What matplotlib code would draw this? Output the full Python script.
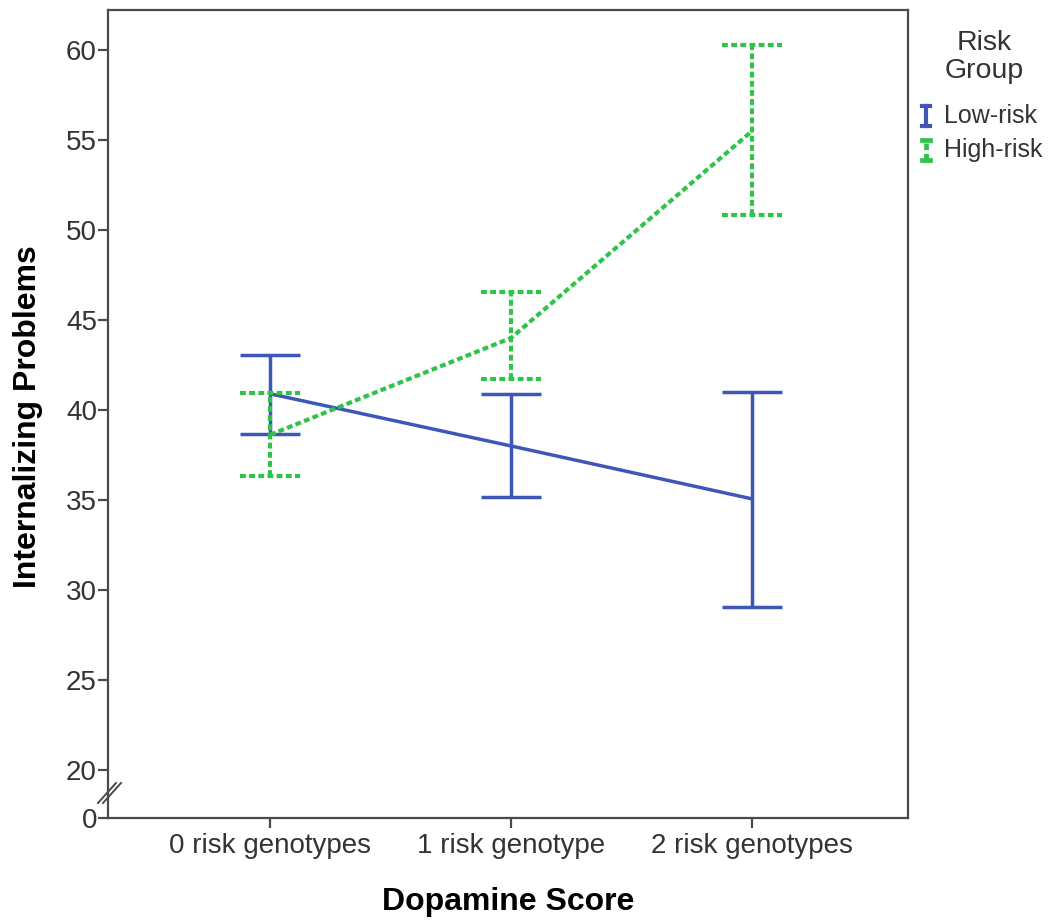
import numpy as np
import matplotlib
matplotlib.use("Agg")
import matplotlib.pyplot as plt
from matplotlib.lines import Line2D

plt.rcParams['font.family'] = ['Liberation Sans', 'DejaVu Sans']

categories = ["0 risk genotypes", "1 risk genotype", "2 risk genotypes"]
low_mean = [40.9, 38.0, 35.06]
low_lo = [38.67, 35.17, 29.06]
low_hi = [43.06, 40.89, 41.0]
high_mean = [38.62, 44.0, 55.5]
high_lo = [36.33, 41.72, 50.83]
high_hi = [40.94, 46.56, 60.28]
yticks = [20, 25, 30, 35, 40, 45, 50, 55, 60]

blue = '#3d57b9'
green = '#2fc449'
dotted = (0, (1.4, 0.8))
capw = 0.125

fig = plt.figure(figsize=(10.55, 9.23), dpi=100)
ax = fig.add_axes([0.1024, 0.1138, 0.7583, 0.8754])

x = np.arange(len(categories))

# low-risk: solid
ax.plot(x, low_mean, color=blue, lw=2.5, solid_capstyle='butt')
ax.vlines(x, low_lo, low_hi, color=blue, lw=2.5)
ax.hlines(low_lo, x - capw, x + capw, color=blue, lw=2.5)
ax.hlines(low_hi, x - capw, x + capw, color=blue, lw=2.5)

# high-risk: dotted
ax.plot(x, high_mean, color=green, lw=3.0, linestyle=dotted)
ax.vlines(x, high_lo, high_hi, color=green, lw=3.0, linestyle=dotted)
ax.hlines(high_lo, x - capw, x + capw, color=green, lw=3.0, linestyle=dotted)
ax.hlines(high_hi, x - capw, x + capw, color=green, lw=3.0, linestyle=dotted)

ybot = 60 - 768 / 18
ytop = 60 + 40 / 18
ax.set_ylim(ybot, ytop)
ax.set_xlim(-0.672, 2.647)
ax.set_yticks([ybot] + yticks)
ax.set_yticklabels(["0"] + [str(t) for t in yticks])
ax.set_xticks(x)
ax.set_xticklabels(categories)

for s in ax.spines.values():
    s.set_color('#4a4a4a')
    s.set_linewidth(1.6)
ax.tick_params(axis='both', direction='out', length=7, width=1.6, color='#4a4a4a',
               labelsize=20, labelcolor='#333333')
ax.tick_params(axis='y', pad=1)
ax.tick_params(axis='x', pad=4)

ax.set_xlabel("Dopamine Score", fontsize=23, fontweight='bold')
ax.set_ylabel("Internalizing Problems", fontsize=23, fontweight='bold')
ax.xaxis.set_label_coords(0.5, -0.086)
ax.yaxis.set_label_coords(-0.081, 0.497)

# axis break marks
for dx in (0, 5):
    fig.add_artist(Line2D([(98 + dx) / 1055, (116 + dx) / 1055],
                          [1 - 803 / 923, 1 - 783 / 923],
                          color='#4a4a4a', lw=1.4))

# legend
fig.text(984 / 1055, 1 - 57 / 923, "Risk\nGroup", ha='center', va='center',
         fontsize=20.5, color='#333333', linespacing=1.12)
items = [("Low-risk", blue, '-', 3.0, 116), ("High-risk", green, dotted, 3.4, 150)]
for label, col, ls, lw, yy in items:
    xs = 926 / 1055
    y0 = 1 - (yy + 10) / 923
    y1 = 1 - (yy - 10) / 923
    fig.add_artist(Line2D([xs, xs], [y0, y1], color=col, lw=lw, linestyle=ls))
    for yc in (y0, y1):
        fig.add_artist(Line2D([xs - 4 / 1055, xs + 4 / 1055], [yc, yc], color=col, lw=lw))
    fig.text(944 / 1055, 1 - yy / 923, label, ha='left', va='center', fontsize=18, color='#333333')

fig.savefig("out.png", dpi=100)
